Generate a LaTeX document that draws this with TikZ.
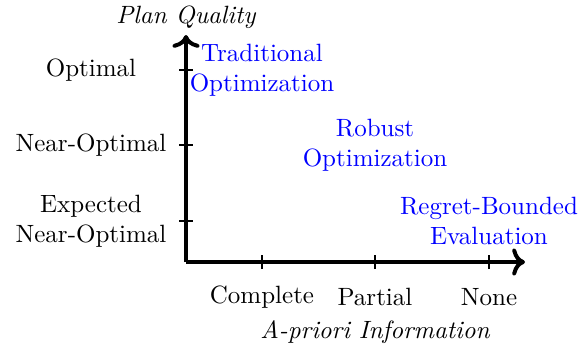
\documentclass[tikz,border=0pt]{standalone}
\usepackage{tikz}
\usetikzlibrary{arrows.meta, positioning}
\tikzstyle{axis} = [line width=1.6pt]
\tikzstyle{tick} = [line width=0.5pt]
\tikzstyle{level} = [align=center]
\tikzstyle{approach} = [blue, align=center]
\tikzstyle{title} = [font=\itshape]

\begin{document}
\begin{tikzpicture}[x=0.4pt,y=0.4pt,>=To]
  \useasboundingbox (-186,-87) rectangle (400,262);
  \coordinate (O) at (0,0);
  \coordinate (xend) at (339,0);
  \coordinate (yend) at (0,227);
  % tick positions
  \coordinate (complete) at (76,0);
  \coordinate (partial) at (189,0);
  \coordinate (none) at (303,0);
  \coordinate (optimal) at (0,192);
  \coordinate (nearopt) at (0,117);
  \coordinate (expected) at (0,41);
  \draw [axis, ->] (O) -- (xend);
  \draw [axis, ->] (O) -- (yend);
  \foreach \t in {complete, partial, none}
    \draw [tick] ([yshift=-2.8pt]\t) -- ([yshift=2.8pt]\t);
  \foreach \t in {optimal, nearopt, expected}
    \draw [tick] ([xshift=-2.8pt]\t) -- ([xshift=2.8pt]\t);
  \node [title, above=-1pt of yend] (quality) {Plan Quality};
  \node [level] (lopt) at (-95,192) {Optimal};
  \node [level] (lnear) at (-95,117) {Near-Optimal};
  \node [level] (lexp) at (-95,41) {Expected\\Near-Optimal};
  \node [level] (lcomplete) at (76,-35) {Complete};
  \node [level] (lpartial) at (189,-35) {Partial};
  \node [level] (lnone) at (303,-35) {None};
  \node [title] (info) at (189,-70) {A-priori Information};
  \node [approach] (trad) at (complete |- optimal) {Traditional\\Optimization};
  \node [approach] (robust) at (partial |- nearopt) {Robust\\Optimization};
  \node [approach] (regret) at (none |- expected) {Regret-Bounded\\Evaluation};
\end{tikzpicture}
\end{document}
